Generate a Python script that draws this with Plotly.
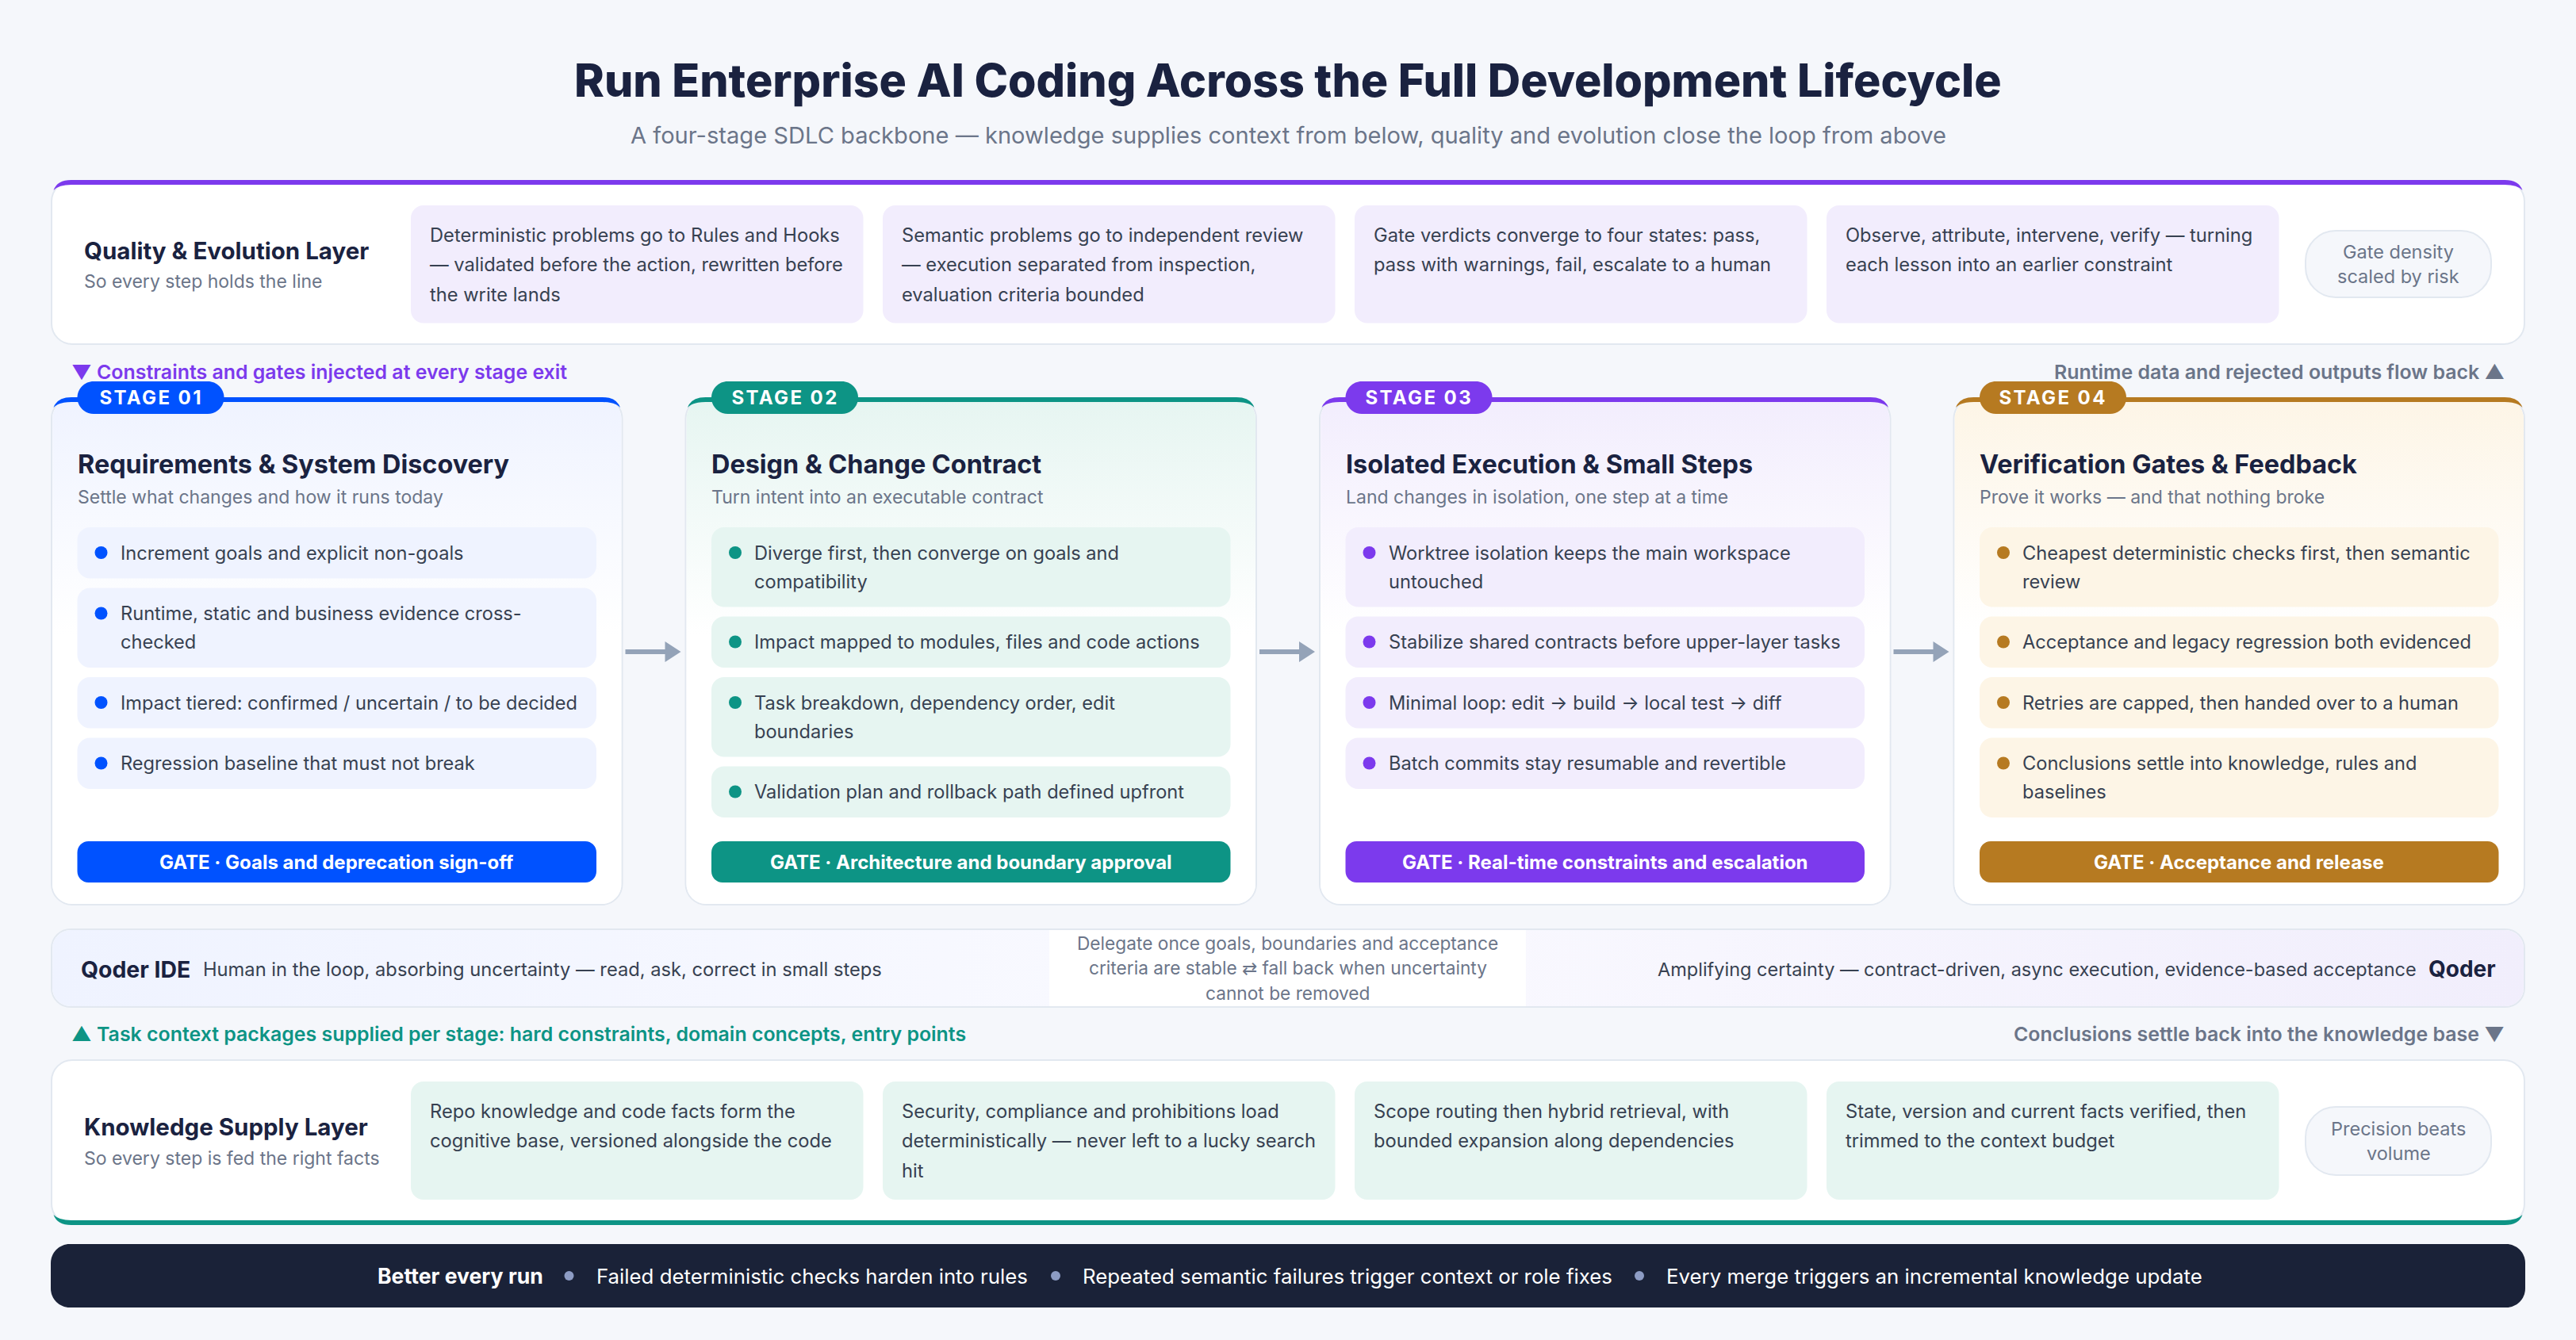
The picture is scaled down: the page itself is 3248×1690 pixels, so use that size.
"""Enterprise AI coding lifecycle diagram, drawn with plotly shapes and annotations"""
import math
import plotly.graph_objects as go

TITLE = "Run Enterprise AI Coding Across the Full Development Lifecycle"
SUBTITLE = "A four-stage SDLC backbone — knowledge supplies context from below, quality and evolution close the loop from above"

QUALITY_NAME = "Quality & Evolution Layer"
QUALITY_SUB = "So every step holds the line"
QUALITY_BOXES = [
    ["Deterministic problems go to Rules and Hooks", "— validated before the action, rewritten before", "the write lands"],
    ["Semantic problems go to independent review", "— execution separated from inspection,", "evaluation criteria bounded"],
    ["Gate verdicts converge to four states: pass,", "pass with warnings, fail, escalate to a human"],
    ["Observe, attribute, intervene, verify — turning", "each lesson into an earlier constraint"],
]
QUALITY_PILL = ["Gate density", "scaled by risk"]

KNOWLEDGE_NAME = "Knowledge Supply Layer"
KNOWLEDGE_SUB = "So every step is fed the right facts"
KNOWLEDGE_BOXES = [
    ["Repo knowledge and code facts form the", "cognitive base, versioned alongside the code"],
    ["Security, compliance and prohibitions load", "deterministically — never left to a lucky search", "hit"],
    ["Scope routing then hybrid retrieval, with", "bounded expansion along dependencies"],
    ["State, version and current facts verified, then", "trimmed to the context budget"],
]
KNOWLEDGE_PILL = ["Precision beats", "volume"]

FLOW_TOP_LEFT = "▼ Constraints and gates injected at every stage exit"
FLOW_TOP_RIGHT = "Runtime data and rejected outputs flow back ▲"
FLOW_BOTTOM_LEFT = "▲ Task context packages supplied per stage: hard constraints, domain concepts, entry points"
FLOW_BOTTOM_RIGHT = "Conclusions settle back into the knowledge base ▼"

STAGE_LABELS = ["STAGE 01", "STAGE 02", "STAGE 03", "STAGE 04"]
STAGE_TITLES = [
    "Requirements & System Discovery",
    "Design & Change Contract",
    "Isolated Execution & Small Steps",
    "Verification Gates & Feedback",
]
STAGE_SUBS = [
    "Settle what changes and how it runs today",
    "Turn intent into an executable contract",
    "Land changes in isolation, one step at a time",
    "Prove it works — and that nothing broke",
]
STAGE_ITEMS = [
    [
        ["Increment goals and explicit non-goals"],
        ["Runtime, static and business evidence cross-", "checked"],
        ["Impact tiered: confirmed / uncertain / to be decided"],
        ["Regression baseline that must not break"],
    ],
    [
        ["Diverge first, then converge on goals and", "compatibility"],
        ["Impact mapped to modules, files and code actions"],
        ["Task breakdown, dependency order, edit", "boundaries"],
        ["Validation plan and rollback path defined upfront"],
    ],
    [
        ["Worktree isolation keeps the main workspace", "untouched"],
        ["Stabilize shared contracts before upper-layer tasks"],
        ["Minimal loop: edit → build → local test → diff"],
        ["Batch commits stay resumable and revertible"],
    ],
    [
        ["Cheapest deterministic checks first, then semantic", "review"],
        ["Acceptance and legacy regression both evidenced"],
        ["Retries are capped, then handed over to a human"],
        ["Conclusions settle into knowledge, rules and", "baselines"],
    ],
]
STAGE_GATES = [
    "GATE · Goals and deprecation sign-off",
    "GATE · Architecture and boundary approval",
    "GATE · Real-time constraints and escalation",
    "GATE · Acceptance and release",
]

IDE_NAME = "Qoder IDE"
IDE_TEXT = "Human in the loop, absorbing uncertainty — read, ask, correct in small steps"
BAND_CENTER = ["Delegate once goals, boundaries and acceptance", "criteria are stable ⇄ fall back when uncertainty", "cannot be removed"]
AGENT_TEXT = "Amplifying certainty — contract-driven, async execution, evidence-based acceptance"
AGENT_NAME = "Qoder"

BAR_LEAD = "Better every run"
BAR_ITEMS = [
    "Failed deterministic checks harden into rules",
    "Repeated semantic failures trigger context or role fixes",
    "Every merge triggers an incremental knowledge update",
]

FONT = "Inter"
BG = "#f5f7fb"
INK = "#1a2240"
BODY = "#374151"
MUTED = "#6b7589"
LINE = "#e2e8f0"
PURPLE = "#7c3aed"
TEAL = "#0d9485"
ACCENTS = ["#0052ff", TEAL, PURPLE, "#b67a21"]
TINTS = ["#eff3ff", "#e6f5f1", "#f2edfd", "#fdf5e6"]
PURPLE_TINT = "#f2edfd"
TEAL_TINT = "#e6f5f1"
DARK = "#1a2238"

WIDTH = 3248
HEIGHT = 1690
LEFT = 64
RIGHT = 3184
CARD_W = 721.5
CARD_STEP = 799.5
CARD_TOP = 501
CARD_BOTTOM = 1142
CARD_PAD = 33.5
ITEM_W = 654.5
KAPPA = 0.5523

shapes = []
annotations = []
traces = []


def rrect_path(x0, y0, x1, y1, r):
    k = r * (1 - KAPPA)
    return (f"M {x0 + r} {y0} L {x1 - r} {y0} C {x1 - k} {y0} {x1} {y0 + k} {x1} {y0 + r} "
            f"L {x1} {y1 - r} C {x1} {y1 - k} {x1 - k} {y1} {x1 - r} {y1} "
            f"L {x0 + r} {y1} C {x0 + k} {y1} {x0} {y1 - k} {x0} {y1 - r} "
            f"L {x0} {y0 + r} C {x0} {y0 + k} {x0 + k} {y0} {x0 + r} {y0} Z")


def box(x0, y0, x1, y1, r, fill, line=None, width=0, layer="above"):
    shapes.append(dict(type="path", path=rrect_path(x0, y0, x1, y1, r), xref="x", yref="y",
                       fillcolor=fill, line=dict(color=line or fill, width=width), layer=layer))


def outline(x0, y0, x1, y1, r):
    """Rounded rectangle as a point list, for the traces that carry a gradient fill"""
    xs, ys = [], []
    corners = [(x1 - r, y0 + r, -90), (x1 - r, y1 - r, 0), (x0 + r, y1 - r, 90), (x0 + r, y0 + r, 180)]
    for cx, cy, start in corners:
        for step in range(13):
            a = math.radians(start + step * 7.5)
            xs.append(cx + r * math.cos(a))
            ys.append(cy + r * math.sin(a))
    xs.append(xs[0])
    ys.append(ys[0])
    return xs, ys


def gradient(x0, y0, x1, y1, r, kind, stops, start, stop):
    xs, ys = outline(x0, y0, x1, y1, r)
    traces.append(go.Scatter(x=xs, y=ys, mode="lines", line=dict(width=0), fill="toself",
                             fillgradient=dict(type=kind, colorscale=stops, start=start, stop=stop),
                             hoverinfo="skip", showlegend=False))


def stripe(x0, x1, edge, color, r=26, thick=6, tip=13, down=1):
    """Coloured edge of a card: runs along one side and thins out into both corners"""
    y_edge = edge
    y_in = edge + down * thick
    y_tip = edge + down * tip
    path = (f"M {x0 + 3.5} {y_tip} Q {x0 + 8} {y_edge} {x0 + r} {y_edge} L {x1 - r} {y_edge} "
            f"Q {x1 - 8} {y_edge} {x1 - 3.5} {y_tip} Q {x1 - 10} {y_in} {x1 - r} {y_in} "
            f"L {x0 + r} {y_in} Q {x0 + 10} {y_in} {x0 + 3.5} {y_tip} Z")
    shapes.append(dict(type="path", path=path, xref="x", yref="y", fillcolor=color,
                       line=dict(width=0), layer="above"))


def dot(cx, cy, r, color):
    shapes.append(dict(type="circle", x0=cx - r, x1=cx + r, y0=cy - r, y1=cy + r, xref="x", yref="y",
                       fillcolor=color, line=dict(width=0), layer="above"))


def label(x, y, text, size, color, weight=400, anchor="left"):
    annotations.append(dict(x=x, y=y, xref="x", yref="y", text=text, showarrow=False, xanchor=anchor,
                            yanchor="middle", borderpad=0, borderwidth=0,
                            font=dict(family=FONT, size=size, color=color, weight=weight)))


def layer_panel(y0, y1, name, sub, boxes, pill, tint, pill_y0, pill_y1, box_y0, box_y1):
    box(LEFT + 1, y0 + 1, RIGHT - 1, y1 - 1, 26, "#ffffff", LINE, 2, "below")
    mid = (box_y0 + box_y1) / 2
    label(106, mid - 17.5, name, 29.5, INK, 700)
    label(106, mid + 22, sub, 23, MUTED)
    for i, lines in enumerate(boxes):
        x0 = 518 + i * 595
        box(x0, box_y0, x0 + 570.5, box_y1, 16, tint)
        for n, line in enumerate(lines):
            label(x0 + 24, box_y0 + 37 + n * 37.5, line, 23.7, BODY)
    box(2907, pill_y0, 3141, pill_y1, 38, BG, LINE, 2)
    center = (pill_y0 + pill_y1) / 2
    for n, line in enumerate(pill):
        label(3024, center + (n - 0.5) * 31.5, line, 23.5, MUTED, anchor="center")


# page heading
label(WIDTH / 2, 101, TITLE, 57.3, INK, 800, "center")
label(WIDTH / 2, 170, SUBTITLE, 29.1, MUTED, anchor="center")

# quality layer
layer_panel(227, 435, QUALITY_NAME, QUALITY_SUB, QUALITY_BOXES, QUALITY_PILL, PURPLE_TINT, 291, 375, 259, 407.5)
stripe(LEFT, RIGHT, 227, PURPLE)
label(90, 469, FLOW_TOP_LEFT, 24.9, PURPLE, 600)
label(3158, 469, FLOW_TOP_RIGHT, 24.9, MUTED, 600, "right")

# four stage cards
for c in range(4):
    x0 = LEFT + c * CARD_STEP
    x1 = x0 + CARD_W
    inner = x0 + CARD_PAD
    accent = ACCENTS[c]
    box(x0 + 1, CARD_TOP + 1, x1 - 1, CARD_BOTTOM - 1, 26, "#ffffff", LINE, 2, "below")
    gradient(x0 + 2, CARD_TOP + 2, x1 - 2, CARD_BOTTOM - 2, 25, "vertical",
             [[0, TINTS[c]], [1, "#ffffff"]], CARD_TOP, 800)
    stripe(x0, x1, CARD_TOP, accent)
    box(inner, 481, inner + 185, 522, 20.5, accent)
    label(inner + 92.5, 501.5, STAGE_LABELS[c], 24, "#ffffff", 700, "center")
    label(inner, 585, STAGE_TITLES[c], 32.4, INK, 700)
    label(inner, 627, STAGE_SUBS[c], 23, MUTED)

    y = 665
    for lines in STAGE_ITEMS[c]:
        h = 64.5 + (len(lines) - 1) * 36
        box(inner, y, inner + ITEM_W, y + h, 16, TINTS[c])
        dot(inner + 30, y + 32, 8, accent)
        for n, line in enumerate(lines):
            label(inner + 54, y + 32 + n * 36, line, 23.6, BODY)
        y += h + 12

    box(inner, 1061, inner + ITEM_W, 1113, 14, accent)
    label(inner + ITEM_W / 2, 1087, STAGE_GATES[c], 24, "#ffffff", 700, "center")

    if c < 3:
        ax = x1 + 3
        shapes.append(dict(type="path", xref="x", yref="y", fillcolor="#94a3b8", line=dict(width=0), layer="above",
                           path=f"M {ax} 819 L {ax + 50} 819 L {ax + 50} 809 L {ax + 70} 822 L {ax + 50} 835 "
                                f"L {ax + 50} 825 L {ax} 825 Z"))

# handover band
box(LEFT + 1, 1172, RIGHT - 1, 1270, 24, "#ffffff", LINE, 2, "below")
gradient(LEFT + 2, 1173, RIGHT - 2, 1269, 23, "horizontal",
         [[0, "#eff3ff"], [0.5, "#fafaff"], [1, "#f1eefc"]], LEFT, RIGHT)
shapes.append(dict(type="rect", x0=1323, x1=1924, y0=1173, y1=1269, xref="x", yref="y",
                   fillcolor="#ffffff", line=dict(width=0), layer="above"))
label(102, 1222, IDE_NAME, 28.4, INK, 700)
label(256, 1222, IDE_TEXT, 23.7, BODY)
for n, line in enumerate(BAND_CENTER):
    label(1623.5, 1189 + n * 31.5, line, 22.7, MUTED, anchor="center")
label(3047, 1222, AGENT_TEXT, 23.5, BODY, anchor="right")
label(3146.5, 1222, AGENT_NAME, 28, INK, 700, "right")

# knowledge layer
label(90, 1304, FLOW_BOTTOM_LEFT, 24.9, TEAL, 600)
label(3158, 1304, FLOW_BOTTOM_RIGHT, 24.9, MUTED, 600, "right")
layer_panel(1336, 1545, KNOWLEDGE_NAME, KNOWLEDGE_SUB, KNOWLEDGE_BOXES, KNOWLEDGE_PILL, TEAL_TINT, 1396, 1482, 1364, 1513)
stripe(LEFT, RIGHT, 1545, TEAL, down=-1)

# closing bar
box(LEFT, 1569, RIGHT, 1649, 24, DARK)
label(476, 1609, BAR_LEAD, 26.6, "#ffffff", 700)
bar_x = [752, 1365, 2100.5]
dot_x = [717.5, 1331, 2067]
for n, text in enumerate(BAR_ITEMS):
    dot(dot_x[n], 1609, 6, "#8d9cc4")
    label(bar_x[n], 1609, text, 25.8, "#ffffff")

fig = go.Figure(traces)
fig.update_layout(
    width=WIDTH, height=HEIGHT, margin=dict(l=0, r=0, t=0, b=0), paper_bgcolor=BG, plot_bgcolor=BG,
    xaxis=dict(range=[0, WIDTH], visible=False, fixedrange=True),
    yaxis=dict(range=[HEIGHT, 0], visible=False, fixedrange=True),
    shapes=shapes, annotations=annotations, showlegend=False,
    font=dict(family=FONT),
)
# page margin off, and the tracked-out stage labels the svg text has no plotly option for
page_js = """
document.body.style.margin = '0';
document.querySelectorAll('.annotation-text').forEach(function (t) {
    if (t.textContent.indexOf('STAGE') === 0) { t.style.letterSpacing = '2.4px'; }
});
"""
fig.write_html("out.html", post_script=page_js, config={"displayModeBar": False})
